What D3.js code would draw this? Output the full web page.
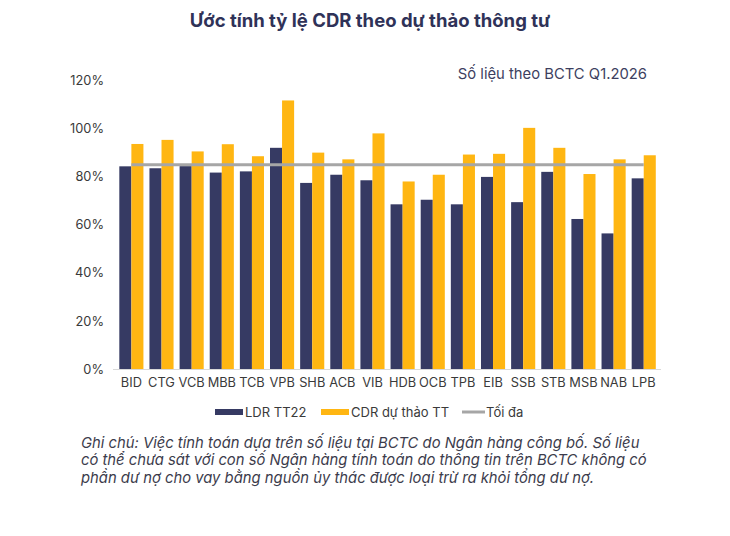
<!DOCTYPE html>
<html>
<head>
<meta charset="utf-8">
<script src="https://cdn.jsdelivr.net/npm/d3@7"></script>
<style>
  html, body { margin: 0; padding: 0; background: #ffffff; }
  svg { display: block; }
</style>
</head>
<body>
<svg id="chart" width="730" height="536"></svg>
<script>
const categories = ["BID","CTG","VCB","MBB","TCB","VPB","SHB","ACB","VIB","HDB","OCB","TPB","EIB","SSB","STB","MSB","NAB","LPB"];
const ldrTT22 = [84.3, 83.5, 84.4, 81.7, 82.2, 92.0, 77.4, 80.8, 78.5, 68.5, 70.4, 68.5, 79.9, 69.4, 82.0, 62.4, 56.4, 79.3];
const cdrDraft = [93.6, 95.3, 90.5, 93.5, 88.5, 111.7, 90.0, 87.2, 98.0, 78.0, 80.8, 89.2, 89.5, 100.3, 92.0, 81.1, 87.2, 88.9];
const maxLimit = 85;
const yTicks = [0, 20, 40, 60, 80, 100, 120];
const seriesNames = ["LDR TT22", "CDR dự thảo TT", "Tối đa"];
const titleText = "Ước tính tỷ lệ CDR theo dự thảo thông tư";
const subtitleText = "Số liệu theo BCTC Q1.2026";
const noteLines = [
  "Ghi chú: Việc tính toán dựa trên số liệu tại BCTC do Ngân hàng công bố. Số liệu",
  "có thể chưa sát với con số Ngân hàng tính toán do thông tin trên BCTC không có",
  "phần dư nợ cho vay bằng nguồn ủy thác được loại trừ ra khỏi tổng dư nợ."
];

const NAVY = "#363a63";
const GOLD = "#ffb612";
const GREY = "#a6a6a6";
const FONT = "Inter, 'Noto Sans', sans-serif";

const svg = d3.select("#chart");

const x = d3.scaleBand().domain(categories).range([116.3, 658.8]).paddingInner(0.2).paddingOuter(0.1);
const xs = d3.scaleBand().domain(["ldr","cdr"]).range([0, x.bandwidth()]);
const y = d3.scaleLinear().domain([0, 120]).range([369, 80.5]);

// title
svg.append("text").attr("x", 370).attr("y", 27).attr("text-anchor", "middle")
  .attr("font-family", FONT).attr("font-weight", 700).attr("font-size", 18.5)
  .attr("fill", "#2f3258").text(titleText);

svg.append("text").attr("x", 647).attr("y", 79).attr("text-anchor", "end")
  .attr("font-family", FONT).attr("font-size", 14.8)
  .attr("fill", "#3d3f5f").text(subtitleText);

// y axis
const yAxis = d3.axisLeft(y).tickValues(yTicks).tickFormat(d => d + "%").tickSize(0).tickPadding(0);
const yg = svg.append("g").attr("transform", "translate(104,0)").call(yAxis);
yg.select(".domain").remove();
yg.selectAll("text").attr("font-family", FONT).attr("font-size", 12.8).attr("fill", "#3a3a3a");

// bars
const groups = svg.append("g").selectAll("g").data(categories).join("g")
  .attr("transform", d => `translate(${x(d)},0)`);
groups.append("rect")
  .attr("x", xs("ldr")).attr("width", xs.bandwidth())
  .attr("y", (d, i) => y(ldrTT22[i])).attr("height", (d, i) => y(0) - y(ldrTT22[i]))
  .attr("fill", NAVY);
groups.append("rect")
  .attr("x", xs("cdr")).attr("width", xs.bandwidth())
  .attr("y", (d, i) => y(cdrDraft[i])).attr("height", (d, i) => y(0) - y(cdrDraft[i]))
  .attr("fill", GOLD);

// baseline
svg.append("line").attr("x1", 113).attr("x2", 661).attr("y1", y(0) + 0.5).attr("y2", y(0) + 0.5)
  .attr("stroke", "#d9d9d9").attr("stroke-width", 1);

// max line
const line = d3.line().x(d => x(d) + x.bandwidth() / 2).y(() => y(maxLimit));
svg.append("path").datum(categories).attr("d", line)
  .attr("fill", "none").attr("stroke", GREY).attr("stroke-width", 3);

// x axis labels
const xAxis = d3.axisBottom(x).tickSize(0).tickPadding(0);
const xg = svg.append("g").attr("transform", "translate(0,378)").call(xAxis);
xg.select(".domain").remove();
xg.selectAll("text").attr("font-family", FONT).attr("font-size", 12.8).attr("fill", "#3a3a3a").attr("dy", "0.71em");

// legend
const legendY = 412;
const leg = svg.append("g").attr("font-family", FONT).attr("font-size", 13).attr("fill", "#3a3a3a");
const legItems = [
  { x: 215, type: "rect", color: NAVY, label: seriesNames[0] },
  { x: 321, type: "rect", color: GOLD, label: seriesNames[1] },
  { x: 462, type: "line", color: GREY, label: seriesNames[2] }
];
legItems.forEach(it => {
  if (it.type === "rect") {
    leg.append("rect").attr("x", it.x).attr("y", legendY - 3).attr("width", 28).attr("height", 6).attr("fill", it.color);
    leg.append("text").attr("x", it.x + 30).attr("y", legendY).attr("dy", "0.35em").text(it.label);
  } else {
    leg.append("line").attr("x1", it.x).attr("x2", it.x + 23).attr("y1", legendY).attr("y2", legendY)
      .attr("stroke", it.color).attr("stroke-width", 3);
    leg.append("text").attr("x", it.x + 24).attr("y", legendY).attr("dy", "0.35em").text(it.label);
  }
});

// note
const note = svg.append("text").attr("font-family", FONT).attr("font-style", "italic")
  .attr("font-size", 14.8).attr("fill", "#3c3c4c");
noteLines.forEach((l, i) => {
  note.append("tspan").attr("x", 81).attr("y", 448 + i * 17.3).text(l);
});
</script>
</body>
</html>
